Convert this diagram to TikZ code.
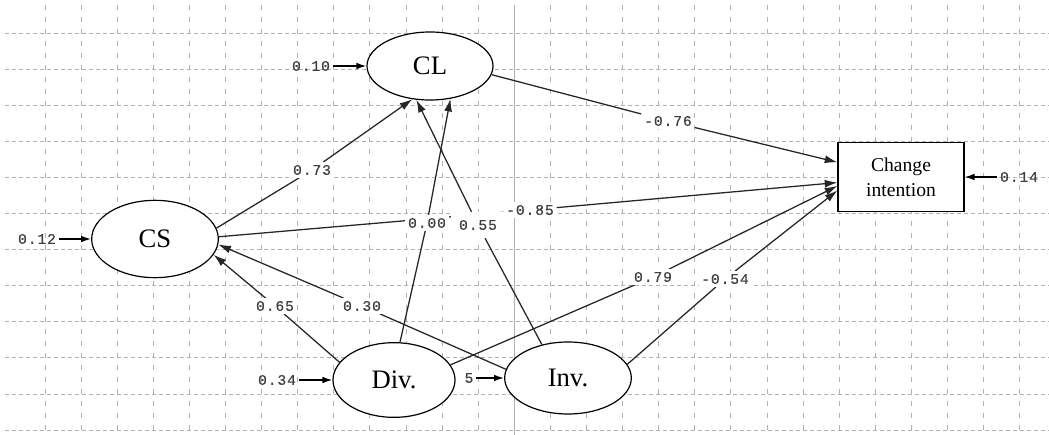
\documentclass[tikz,border=0pt]{standalone}
\usepackage{fontspec}
\setmainfont{Liberation Serif}
\newfontfamily\monof[LetterSpace=6,FakeBold=0.4]{Liberation Mono}
\usetikzlibrary{arrows.meta,shapes.geometric}
\pgfdeclarelayer{bg}
\pgfdeclarelayer{fg}
\pgfsetlayers{bg,main,fg}
\begin{document}
\begin{tikzpicture}[x=0.75pt,y=-0.75pt,
  latent/.style={ellipse,draw,fill=white,line width=0.9pt,inner sep=0pt,
    font=\fontsize{20}{21}\selectfont},
  obs/.style={rectangle,draw,fill=white,line width=0.9pt,inner sep=0pt,
    minimum width=94.5pt,minimum height=52pt,align=center,
    font=\fontsize{14.7}{18.7}\selectfont},
  coef/.style={font=\monof\fontsize{11}{12}\selectfont,text=black!75,inner sep=2pt,fill=white},
  errlab/.style={font=\monof\fontsize{11}{12}\selectfont,text=black!75,inner sep=2pt},
  conn/.style={draw=black!85,line width=0.95pt},
  head/.style={-{Latex[length=9.5pt,width=6pt]}},
  err/.style={draw=black,line width=1.1pt,-{Latex[length=7.5pt,width=5pt]}},
  gridh/.style={draw=black!30,line width=0.65pt,dash pattern=on 3pt off 2.25pt},
  gridv/.style={draw=black!30,line width=0.65pt,dash pattern=on 4pt off 5pt},
]
\useasboundingbox (0,0) rectangle (1049,435);
\begin{pgfonlayer}{bg}
  \fill[white] (0,0) rectangle (1049,435);
  \foreach \k in {0,...,11} \draw[gridh] (5,{33+36.1*\k}) -- (1049,{33+36.1*\k});
  \foreach \k in {0,...,27} \draw[gridv] ({45+36.1*\k},5) -- ({45+36.1*\k},435);
  \draw[draw=black!30,line width=0.7pt] (514,5) -- (514,435);
\end{pgfonlayer}

% latent and observed variables
\node[latent,minimum width=94.5pt,minimum height=51pt] (CL) at (430,66) {CL};
\node[latent,minimum width=95pt,minimum height=58pt] (CS) at (155,239) {CS};
\node[latent,minimum width=91.5pt,minimum height=56pt] (Div) at (394,380) {Div.};
\node[latent,minimum width=95pt,minimum height=54pt] (Inv) at (568,378) {Inv.};
\node[obs] (Ch) at (901,177) {Change\\intention};

% coefficient labels
\begin{pgfonlayer}{fg}
  \node[coef] (l73) at (312,170) {0.73};
  \node[coef] (l76) at (668,121) {-0.76};
  \node[coef] (l00) at (427,223) {0.00};
  \node[coef,inner ysep=6pt,inner xsep=6pt] (l55) at (478,225) {0.55};
  \node[coef] (l85) at (530,210) {-0.85};
  \node[coef] (l65) at (275,306) {0.65};
  \node[coef] (l30) at (362,306) {0.30};
  \node[coef] (l79) at (653,277) {0.79};
  \node[coef] (l54) at (725,279) {-0.54};
\end{pgfonlayer}

% error labels
\node[errlab] (e10) at (311,66) {0.10};
\node[errlab] (e12) at (37,239) {0.12};
\node[errlab] (e34) at (277,380) {0.34};
\node[errlab] (e5) at (469,378) {5};
\node[errlab] (e14) at (1019,177) {0.14};

% structural paths
\draw[conn,head] (CS.10) -- (l73) -- (CL.-118);
\draw[conn,head] (Div.81) -- (l00) -- (CL.-58);
\draw[conn,head] (Inv.128) -- (l55) -- (CL.-112);
\draw[conn,head] (CL.-8) -- (l76) -- (Ch.167.5);
\draw[conn,head] (CS.2) -- (l85) -- (Ch.-175.5);
\draw[conn,head] (Div.162) -- (l65) -- (CS.-15);
\draw[conn,head] (Inv.172) -- (l30) -- (CS.-5);
\draw[conn,head] (Div.15) -- (l79) -- (Ch.-172);
\draw[conn,head] (Inv.13) -- (l54) -- (Ch.-168);

% error arrows
\draw[err] (e10) -- (CL.west);
\draw[err] (e12) -- (CS.west);
\draw[err] (e34) -- (Div.west);
\draw[err] (e5) -- (Inv.west);
\draw[err] (e14) -- (Ch.east);
\end{tikzpicture}
\end{document}
